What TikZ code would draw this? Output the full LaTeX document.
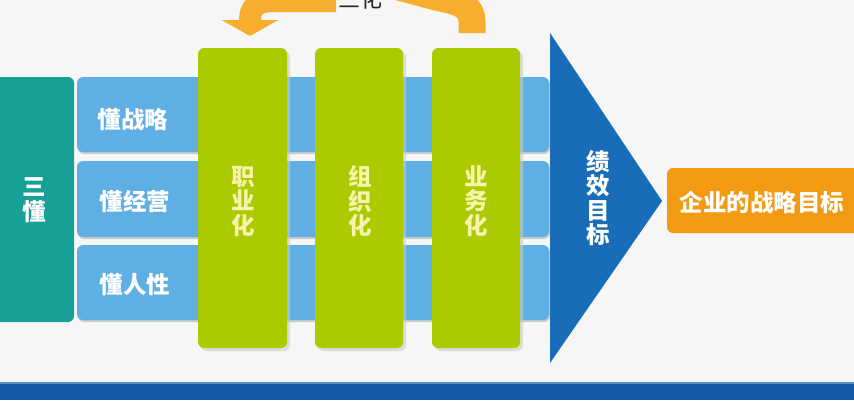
\documentclass[tikz,border=0pt]{standalone}
\usepackage{fontspec}
\newfontfamily\cjk{Noto Sans CJK SC}
\usetikzlibrary{arrows.meta}
\definecolor{bgc}{RGB}{246,246,247}
\definecolor{tealc}{RGB}{22,160,150}
\definecolor{rowc}{RGB}{95,174,228}
\definecolor{greenc}{RGB}{172,202,0}
\definecolor{triblue}{RGB}{24,108,184}
\definecolor{orangec}{RGB}{243,154,18}
\definecolor{arrowc}{RGB}{247,174,46}
\definecolor{bandc}{RGB}{18,92,168}
\definecolor{paley}{RGB}{246,244,170}
\definecolor{shadowc}{RGB}{200,205,200}
\tikzset{
  rowbox/.style={fill=rowc, draw=none, rounded corners=6pt},
  greenbox/.style={fill=greenc, draw=none, rounded corners=6pt},
  shadowbox/.style={fill=shadowc, draw=none, rounded corners=6pt, opacity=0.6},
  wlabel/.style={text=white, font=\cjk\bfseries\fontsize{23.5}{24.5}\selectfont, align=center, inner sep=0pt},
  ylabel/.style={text=paley, font=\cjk\bfseries\fontsize{23.5}{24.5}\selectfont, align=center, inner sep=0pt},
  curvearrow/.style={draw=arrowc, line width=22pt}
}
\begin{document}
\begin{tikzpicture}[x=1pt,y=-1pt]
\useasboundingbox (0,0) rectangle (854,400);
\fill[bgc] (0,0) rectangle (854,400);
% bottom band
\fill[bandc] (0,382) rectangle (854,400);
\fill[bandc!70!white] (0,382) rectangle (854,384);
% left teal block
\fill[tealc, rounded corners=6pt] (-12,77) rectangle (74,322);
\node[wlabel] (sandong) at (34,200) {三\\懂};
% rows
\fill[shadowc, rounded corners=6pt] (78,79) rectangle (550,154);
\fill[shadowc, rounded corners=6pt] (78,163) rectangle (550,239);
\fill[shadowc, rounded corners=6pt] (78,247) rectangle (550,322);
\fill[rowbox] (77,77) rectangle (549,152);
\fill[rowbox] (77,161) rectangle (549,237);
\fill[rowbox] (77,245) rectangle (549,320);
\node[wlabel] (r1) at (133,120) {懂战略};
\node[wlabel] (r2) at (135,201) {懂经营};
\node[wlabel] (r3) at (135,285) {懂人性};
% green columns with shadows
\foreach \xa/\xb in {198/287, 315/403, 432/520}{
  \fill[shadowbox] (\xa+3,51) rectangle (\xb+3,351);
  \fill[greenbox] (\xa,48) rectangle (\xb,348);
}
\node[ylabel] (g1) at (243,201) {职\\业\\化};
\node[ylabel] (g2) at (360,201) {组\\织\\化};
\node[ylabel] (g3) at (476,201) {业\\务\\化};
% triangle
\fill[triblue] (550,33) -- (662,201) -- (550,363) -- cycle;
\node[wlabel] (jx) at (598,198) {绩\\效\\目\\标};
% orange target box
\fill[orangec, rounded corners=6pt] (667,168) rectangle (866,233);
\node[wlabel] (goal) at (762,202) {企业的战略目标};
% top curved arrows and label
\node[text=black!85, font=\cjk\fontsize{22}{24}\selectfont, inner sep=0pt] (sanhua) at (360,-1) {三化};
\coordinate (lstart) at (336,1);
\coordinate (ltip) at (250,36);
\draw[curvearrow, -{Triangle[width=56pt,length=16pt]}] (lstart) -- (274,1) .. controls (256,1) and (250,8) .. (250,20) -- (ltip);
\coordinate (rend) at (472,33);
\coordinate (rstart) at (395,-14);
\draw[curvearrow, line width=27pt] (rend) -- (472,22) .. controls (472,6) and (460,2) .. (440,-2) -- (rstart);
\end{tikzpicture}
\end{document}
